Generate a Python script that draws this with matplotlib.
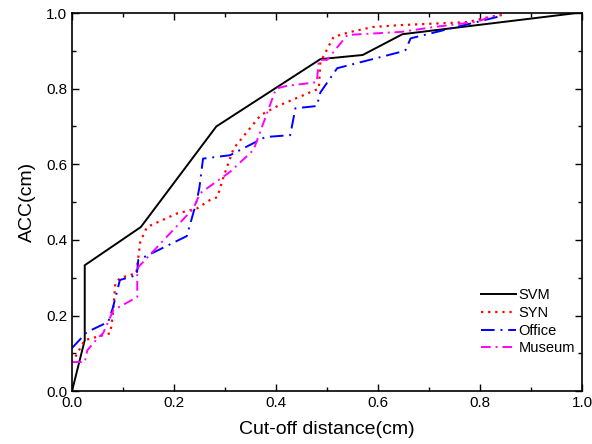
import matplotlib.pyplot as plt
from matplotlib.ticker import MultipleLocator

plt.rcParams['font.family'] = ['Liberation Sans', 'DejaVu Sans']

svm_x = [0.0, 0.025, 0.025, 0.135, 0.283, 0.487, 0.57, 0.648, 0.99]
svm_y = [0.0, 0.135, 0.333, 0.434, 0.70, 0.878, 0.889, 0.944, 1.0]

syn_x = [0.0, 0.025, 0.075, 0.08, 0.085, 0.094, 0.126, 0.134, 0.147, 0.206, 0.245, 0.27,
         0.285, 0.297, 0.317, 0.37, 0.40, 0.484, 0.487, 0.513, 0.546, 0.59, 0.644, 0.776,
         0.82, 0.845]
syn_y = [0.075, 0.135, 0.153, 0.20, 0.285, 0.299, 0.312, 0.395, 0.434, 0.47, 0.483, 0.505,
         0.513, 0.566, 0.642, 0.73, 0.752, 0.80, 0.87, 0.937, 0.95, 0.963, 0.968, 0.976,
         0.99, 0.995]

office_x = [0.0, 0.029, 0.071, 0.08, 0.094, 0.127, 0.13, 0.225, 0.245, 0.25, 0.257, 0.31,
            0.379, 0.428, 0.438, 0.48, 0.487, 0.52, 0.644, 0.654, 0.664, 0.835]
office_y = [0.114, 0.156, 0.183, 0.22, 0.294, 0.307, 0.347, 0.41, 0.505, 0.54, 0.615, 0.624,
            0.672, 0.677, 0.748, 0.754, 0.79, 0.854, 0.897, 0.902, 0.933, 0.99]

museum_x = [0.0, 0.025, 0.03, 0.05, 0.061, 0.081, 0.128, 0.128, 0.13, 0.238, 0.251, 0.31,
            0.356, 0.40, 0.42, 0.48, 0.484, 0.50, 0.54, 0.645, 0.71, 0.795, 0.82, 0.84]
museum_y = [0.077, 0.077, 0.108, 0.14, 0.153, 0.214, 0.249, 0.307, 0.328, 0.483, 0.523, 0.58,
            0.638, 0.80, 0.807, 0.817, 0.876, 0.876, 0.942, 0.95, 0.963, 0.977, 0.99, 0.995]

fig = plt.figure(figsize=(5.92, 4.44), dpi=100)
ax = fig.add_axes([0.1216, 0.119, 0.8615, 0.8517])

ax.plot(svm_x, svm_y, color="black", lw=1.4, label="SVM")
ax.plot(syn_x, syn_y, color="red", lw=1.6, linestyle=(0, (1, 2.2)), label="SYN")
ax.plot(office_x, office_y, color="blue", lw=1.4, linestyle=(0, (7, 3, 1, 3)), label="Office")
ax.plot(museum_x, museum_y, color="magenta", lw=1.4, linestyle=(0, (5, 2.5, 1, 2.5)), label="Museum")

ax.set_xlim(0, 1.0)
ax.set_ylim(0, 1.0)
ax.xaxis.set_major_locator(MultipleLocator(0.2))
ax.xaxis.set_minor_locator(MultipleLocator(0.1))
ax.yaxis.set_major_locator(MultipleLocator(0.2))
ax.yaxis.set_minor_locator(MultipleLocator(0.1))
ax.tick_params(which="both", direction="in", top=True, right=True, labelsize=11)
ax.tick_params(which="major", length=5, width=1)
ax.tick_params(which="minor", length=3, width=1)
for s in ax.spines.values():
    s.set_linewidth(1.2)

ax.set_xlabel("Cut-off distance(cm)", fontsize=14, labelpad=8)
ax.set_ylabel("ACC(cm)", fontsize=14, labelpad=7)

ax.legend(loc="lower right", bbox_to_anchor=(1.012, 0.06), frameon=False, fontsize=10.5,
          handlelength=2.4, handletextpad=0.2, labelspacing=0.25)

fig.savefig("out.png", dpi=100)
